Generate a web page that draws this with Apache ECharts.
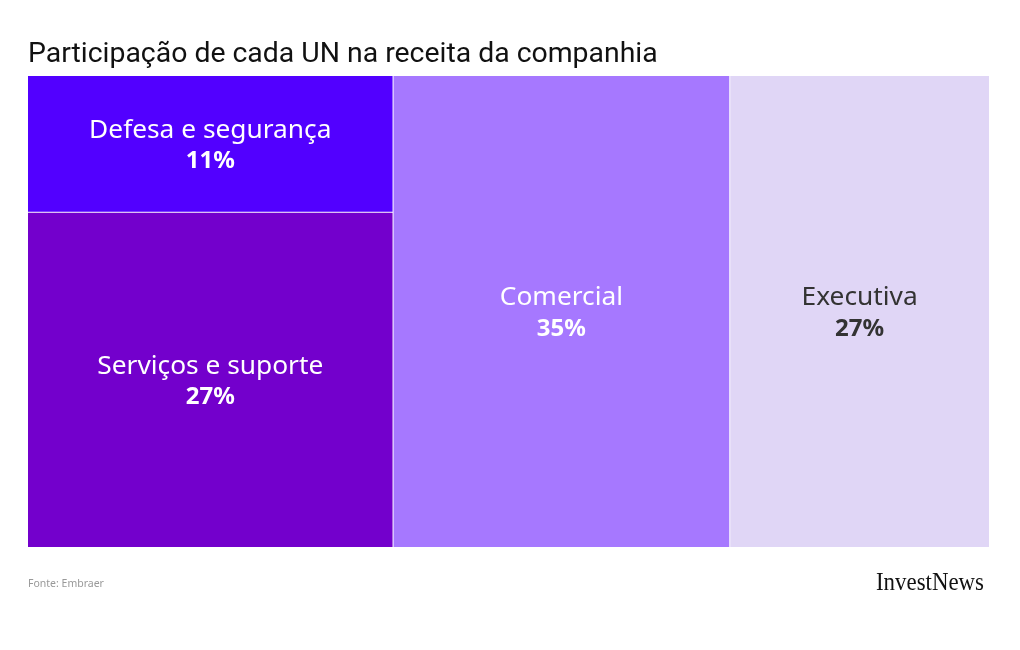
<!DOCTYPE html>
<html>
<head>
<meta charset="utf-8">
<script src="https://cdn.jsdelivr.net/npm/echarts@6/dist/echarts.min.js"></script>
<style>
html,body{margin:0;padding:0;background:#fff;}
#c{width:1020px;height:650px;}
</style>
</head>
<body>
<div id="c"></div>
<script>
// Data
const categories = ['Defesa e segurança', 'Serviços e suporte', 'Comercial', 'Executiva'];
const shares = [11, 27, 35, 27];
const grouped = [true, true, false, false]; // first two share a column
const palette = ['#5200FF', '#7300CC', '#A678FF', '#E0D6F6'];
const textColors = ['#ffffff', '#ffffff', '#ffffff', '#333333'];

const LINE_H = 31;
const BLOCK_H = LINE_H * 2;
const NUDGE = 2;

function leaf(i, padTop) {
  return {
    name: categories[i],
    value: shares[i],
    itemStyle: { color: palette[i] },
    label: {
      padding: [padTop || 0, 0, 0, 0],
      rich: {
        n: { color: textColors[i], fontSize: 26.3, fontFamily: 'Noto Sans', lineHeight: LINE_H, align: 'center' },
        v: { color: textColors[i], fontSize: 24, fontWeight: 'bold', fontFamily: 'Noto Sans', lineHeight: LINE_H, align: 'center' }
      }
    }
  };
}
function buildData(pads) {
  const groupChildren = [];
  const data = [];
  categories.forEach((c, i) => {
    const node = leaf(i, pads ? pads[c] : 0);
    if (grouped[i]) {
      if (!groupChildren.length) data.push({ name: 'grupo', children: groupChildren });
      groupChildren.push(node);
    } else {
      data.push(node);
    }
  });
  return data;
}

const chart = echarts.init(document.getElementById('c'), null, { renderer: 'canvas' });
chart.setOption({
  animation: false,
  backgroundColor: '#ffffff',
  title: {
    text: 'Participação de cada UN na receita da companhia',
    left: 28, top: 41,
    padding: 0,
    textStyle: { fontFamily: 'Roboto', fontWeight: 'normal', fontSize: 28.4, color: '#111' }
  },
  graphic: [
    { type: 'text', left: 28, top: 579, style: { text: 'Fonte: Embraer', fontFamily: 'Noto Sans', fontSize: 10.5, fill: '#999' } },
    { type: 'text', left: 876, top: 571, scaleX: 0.915, style: { text: 'InvestNews', fontFamily: 'Liberation Serif', fontSize: 25, fill: '#111' } }
  ],
  series: [{
    type: 'treemap',
    left: 28, top: 76, width: 961, height: 471,
    sort: false,
    roam: false,
    nodeClick: false,
    breadcrumb: { show: false },
    squareRatio: 1,
    label: {
      show: true,
      position: 'inside',
      align: 'center',
      verticalAlign: 'middle',
      formatter: p => '{n|' + p.name + '}\n{v|' + p.value + '%}'
    },
    upperLabel: { show: false },
    levels: [
      { itemStyle: { borderWidth: 0, gapWidth: 1, borderColor: '#fff' } },
      { itemStyle: { borderWidth: 0, gapWidth: 1, borderColor: '#fff' } }
    ],
    data: buildData(null)
  }]
});

// Second pass: center the label block vertically using the library's own layout.
try {
  const seriesModel = chart.getModel().getSeriesByIndex(0);
  const tree = seriesModel.getData().tree;
  const pads = {};
  tree.root.eachNode(node => {
    const lay = node.getLayout();
    if (lay && categories.indexOf(node.name) >= 0) {
      pads[node.name] = Math.max(0, (lay.height - BLOCK_H) / 2 + NUDGE);
    }
  });
  chart.setOption({ series: [{ data: buildData(pads) }] });
} catch (e) { console.error(e); }
</script>
</body>
</html>
